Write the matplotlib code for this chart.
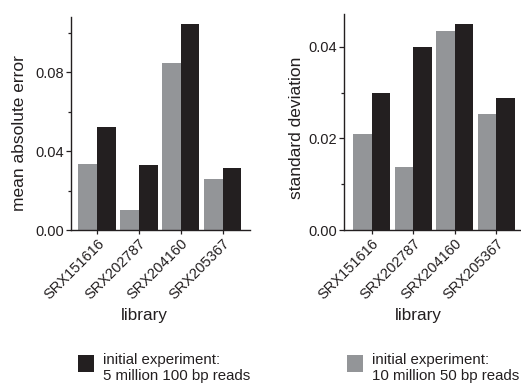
import matplotlib

matplotlib.use("Agg")

import matplotlib.pyplot as plt
import numpy as np
from matplotlib.patches import Rectangle
from matplotlib.ticker import FormatStrFormatter, MultipleLocator

GRAY = "#939598"
BLACK = "#231f20"
INK = "#231f20"

libraries = ["SRX151616", "SRX202787", "SRX204160", "SRX205367"]
mae_10m_50bp = [0.0334, 0.0101, 0.0846, 0.0258]
mae_5m_100bp = [0.0522, 0.0329, 0.1043, 0.0314]
sd_10m_50bp = [0.0210, 0.0138, 0.0435, 0.0254]
sd_5m_100bp = [0.0299, 0.0400, 0.0450, 0.0289]

legend_labels = ["initial experiment:\n5 million 100 bp reads",
                 "initial experiment:\n10 million 50 bp reads"]

plt.rcParams["font.family"] = ["Liberation Sans", "DejaVu Sans"]
plt.rcParams["font.size"] = 10.5

W, H = 521, 383
fig = plt.figure(figsize=(W / 100, H / 100), dpi=100)
ax1 = fig.add_axes([71 / W, 1 - 230 / H, 179 / W, 213 / H])
ax2 = fig.add_axes([344 / W, 1 - 230 / H, 176 / W, 216 / H])

x = np.arange(len(libraries))
w = 0.445


def style_axis(ax, ylim, major, ylabel, xlim, ylab_xy, xlab_xy):
    ax.set_xlim(*xlim)
    ax.set_ylim(*ylim)
    ax.yaxis.set_major_locator(MultipleLocator(major))
    ax.yaxis.set_minor_locator(MultipleLocator(major / 2))
    ax.yaxis.set_major_formatter(FormatStrFormatter("%.2f"))
    for s in ("top", "right"):
        ax.spines[s].set_visible(False)
    for s in ("left", "bottom"):
        ax.spines[s].set_linewidth(1.0)
        ax.spines[s].set_color(INK)
    ax.tick_params(axis="both", which="both", direction="out", color=INK, width=0.9,
                   labelcolor=INK, labelsize=10.5)
    ax.tick_params(axis="y", which="major", length=3.3, pad=1.5)
    ax.tick_params(axis="y", which="minor", length=2.5)
    ax.tick_params(axis="x", length=3.0, pad=1.5)
    ax.set_xticks(x)
    ax.set_xticklabels(libraries, rotation=45, ha="right", rotation_mode="anchor")
    ax.set_ylabel(ylabel, fontsize=12.5, color=INK)
    ax.set_xlabel("library", fontsize=12.3, color=INK)
    ax.yaxis.set_label_coords(*ylab_xy)
    ax.xaxis.set_label_coords(*xlab_xy)


ax1.bar(x - w / 2, mae_10m_50bp, w, color=GRAY, linewidth=0)
ax1.bar(x + w / 2, mae_5m_100bp, w, color=BLACK, linewidth=0)
style_axis(ax1, (0, 0.108), 0.04, "mean absolute error", (-0.62, 3.65),
           (-0.245, 0.453), (0.408, -0.365))

ax2.bar(x - w / 2, sd_10m_50bp, w, color=GRAY, linewidth=0)
ax2.bar(x + w / 2, sd_5m_100bp, w, color=BLACK, linewidth=0)
style_axis(ax2, (0, 0.0472), 0.02, "standard deviation", (-0.67, 3.57),
           (-0.225, 0.475), (0.42, -0.36))

# legend blocks under each panel
for sq_x, col, label in [(78, BLACK, legend_labels[0]), (347, GRAY, legend_labels[1])]:
    fig.add_artist(Rectangle((sq_x / W, 1 - 372 / H), 16 / W, 17 / H,
                             transform=fig.transFigure, facecolor=col, edgecolor="none"))
    fig.text((sq_x + 25) / W, 1 - 368 / H, label, ha="left", va="center",
             fontsize=10.8, color=INK, linespacing=1.1)

fig.savefig("out.png", dpi=100)
